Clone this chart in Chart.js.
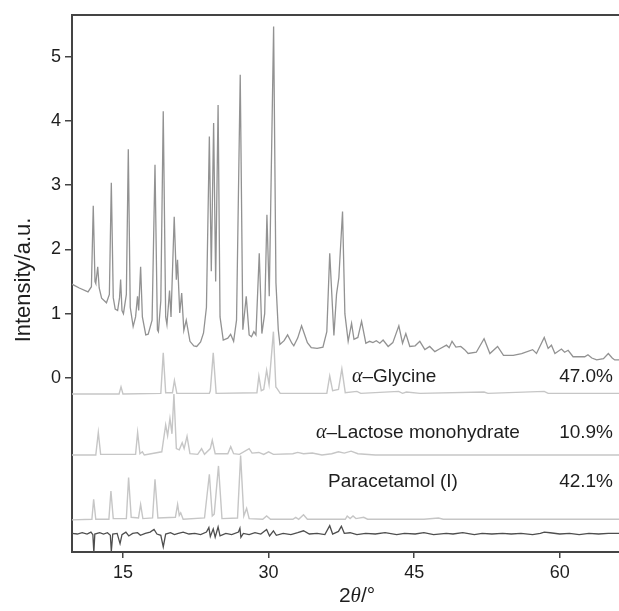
<!DOCTYPE html>
<html>
<head>
<meta charset="utf-8">
<script src="https://cdn.jsdelivr.net/npm/chart.js@4/dist/chart.umd.min.js"></script>
<style>
  html, body { margin: 0; padding: 0; background: #fff; overflow: hidden; }
  canvas { display: block; }
</style>
</head>
<body>
<canvas id="xrdChart" width="619" height="611"></canvas>
<script>
// tick labels
const xTicks = [15, 30, 45, 60];
const yTicks = [0, 1, 2, 3, 4, 5];

// observed pattern
const obsX = [9.75, 10.5, 11.4, 11.75, 11.94, 12.12, 12.2, 12.4, 12.55, 12.8, 13.3, 13.6, 13.8, 14.0, 14.2, 14.45, 14.65, 14.76, 14.9, 15.05,
  15.35, 15.55, 15.75, 16.05, 16.3, 16.5, 16.62, 16.82, 17.0, 17.35, 17.6, 18.0, 18.3, 18.55, 18.65, 18.9, 19.15, 19.4, 19.53, 19.8,
  19.95, 20.28, 20.5, 20.62, 20.85, 21.05, 21.27, 21.52, 21.9, 22.3, 22.6, 23.0, 23.3, 23.6, 23.9, 24.1, 24.34, 24.55, 24.8, 25.0,
  25.33, 25.8, 26.09, 26.4, 26.7, 27.08, 27.35, 27.7, 28.0, 28.24, 28.48, 28.7, 29.04, 29.31, 29.6, 29.83, 30.07, 30.52, 30.76, 31.0,
  31.17, 31.6, 31.96, 32.4, 32.6, 33.0, 33.4, 33.7, 34.0, 34.4, 35.0, 35.6, 36.0, 36.3, 36.73, 37.0, 37.24, 37.62, 37.86, 38.2,
  38.55, 38.8, 39.2, 39.58, 40.02, 40.4, 40.75, 41.1, 41.46, 41.8, 42.32, 42.8, 43.42, 43.8, 44.14, 44.55, 45.1, 45.58, 46.1, 46.6,
  47.13, 47.6, 48.33, 48.6, 48.9, 49.3, 49.8, 50.2, 50.56, 51.4, 52.2, 52.8, 53.59, 54.2, 55.2, 56.07, 57.2, 57.6, 58.4, 58.8,
  59.14, 59.5, 60.17, 60.5, 60.86, 61.37, 62.0, 62.57, 62.9, 63.3, 63.8, 64.5, 65.0, 65.4, 65.66, 66.1];
const obsY = [1.46, 1.40, 1.34, 1.42, 2.68, 1.50, 1.47, 1.73, 1.40, 1.24, 1.17, 1.30, 3.04, 1.25, 1.07, 1.05, 1.25, 1.53, 1.05, 1.00,
  1.30, 3.56, 1.10, 0.80, 0.95, 1.27, 1.05, 1.73, 0.95, 0.67, 0.68, 0.90, 3.32, 0.75, 0.72, 1.20, 4.15, 0.95, 0.83, 1.36,
  0.95, 2.51, 1.53, 1.84, 1.01, 1.32, 0.74, 0.90, 0.57, 0.50, 0.49, 0.56, 0.70, 1.10, 3.76, 1.66, 3.97, 1.50, 4.25, 0.95,
  0.59, 0.62, 0.68, 0.57, 0.90, 4.72, 0.75, 1.27, 0.67, 0.64, 0.72, 0.67, 1.94, 0.69, 1.00, 2.54, 1.27, 5.47, 1.48, 0.75,
  0.52, 0.58, 0.67, 0.54, 0.50, 0.62, 0.81, 0.68, 0.55, 0.47, 0.46, 0.48, 0.72, 1.94, 0.66, 1.30, 1.56, 2.59, 1.00, 0.57,
  0.85, 0.60, 0.63, 0.88, 0.54, 0.57, 0.55, 0.58, 0.54, 0.59, 0.49, 0.55, 0.81, 0.54, 0.69, 0.49, 0.50, 0.57, 0.44, 0.49,
  0.41, 0.45, 0.51, 0.47, 0.57, 0.48, 0.49, 0.44, 0.38, 0.40, 0.61, 0.38, 0.49, 0.35, 0.35, 0.38, 0.44, 0.38, 0.63, 0.46,
  0.51, 0.38, 0.45, 0.40, 0.43, 0.33, 0.33, 0.33, 0.36, 0.31, 0.28, 0.30, 0.38, 0.31, 0.28, 0.28];

// calculated alpha-glycine pattern
const glyX = [9.75, 14.6, 14.8, 15.0, 18.9, 19.15, 19.4, 20.1, 20.3, 20.55, 23.9, 24.0, 24.3, 24.6, 28.8, 29.0, 29.25, 29.5, 29.8, 30.05,
  30.5, 30.75, 30.9, 31.2, 36.0, 36.3, 36.6, 37.2, 37.55, 37.9, 39.1, 39.5, 43.4, 43.8, 44.2, 45.6, 52.2, 52.6, 58.4, 58.8, 66.1];
const glyY = [-0.25, -0.25, -0.14, -0.25, -0.24, 0.39, -0.23, -0.23, -0.04, -0.24, -0.24, -0.20, 0.39, -0.24, -0.23, 0.03, -0.20, -0.18, 0.12, -0.10,
  0.72, -0.14, -0.17, -0.24, -0.24, 0.03, -0.20, -0.18, 0.14, -0.23, -0.21, -0.24, -0.21, -0.24, -0.22, -0.24, -0.22, -0.24, -0.21, -0.24, -0.24];

// calculated alpha-lactose monohydrate pattern
const lacX = [9.75, 12.2, 12.46, 12.7, 16.3, 16.51, 16.75, 17.0, 17.2, 19.0, 19.4, 19.6, 19.84, 20.05, 20.25, 20.5, 20.8, 21.1, 21.3, 21.6,
  21.9, 22.7, 23.1, 23.4, 24.0, 24.2, 24.5, 25.8, 26.1, 26.4, 27.0, 28.0, 28.3, 29.0, 29.5, 30.0, 30.5, 32.5, 33.0, 33.6,
  34.5, 35.5, 36.5, 37.2, 37.8, 38.5, 39.2, 41.0, 66.1];
const lacY = [-1.20, -1.20, -0.85, -1.19, -1.19, -0.85, -1.18, -1.15, -1.20, -1.15, -0.73, -0.90, -0.63, -0.87, -0.25, -1.10, -1.12, -1.01, -1.10, -0.91,
  -1.18, -1.19, -1.10, -1.19, -1.10, -0.97, -1.18, -1.18, -1.07, -1.18, -1.19, -1.10, -1.17, -1.16, -1.19, -1.15, -1.19, -1.18, -1.16, -1.18,
  -1.17, -1.20, -1.18, -1.15, -1.17, -1.14, -1.18, -1.20, -1.20];

// calculated paracetamol (I) pattern
const parX = [9.75, 11.8, 11.98, 12.2, 13.55, 13.76, 14.0, 15.35, 15.58, 15.85, 16.6, 16.82, 17.05, 18.05, 18.3, 18.6, 20.4, 20.63, 20.8, 20.95,
  21.2, 23.4, 23.9, 24.2, 24.4, 24.84, 25.2, 26.8, 27.12, 27.45, 27.74, 28.0, 29.4, 29.8, 30.2, 32.5, 32.8, 33.1, 33.6, 34.0,
  37.9, 38.1, 38.4, 38.7, 39.0, 39.8, 40.2, 46.0, 47.5, 48.0, 66.1];
const parY = [-2.21, -2.20, -1.89, -2.20, -2.20, -1.76, -2.19, -2.19, -1.55, -2.17, -2.18, -1.97, -2.19, -2.18, -1.58, -2.18, -2.17, -1.97, -2.14, -2.10,
  -2.20, -2.18, -1.50, -2.15, -2.12, -1.37, -2.19, -2.18, -1.21, -2.15, -2.03, -2.19, -2.20, -2.15, -2.20, -2.20, -2.17, -2.20, -2.13, -2.20,
  -2.20, -2.15, -2.19, -2.15, -2.19, -2.17, -2.20, -2.20, -2.18, -2.20, -2.20];

// difference curve
const difX = [9.75, 10.3, 10.8, 11.3, 11.7, 11.9, 12.0, 12.1, 12.6, 13.0, 13.4, 13.7, 13.8, 13.95, 14.4, 14.7, 14.9, 15.3, 15.6, 16.0,
  16.5, 16.8, 17.3, 17.8, 18.2, 18.5, 18.9, 19.15, 19.4, 19.9, 20.3, 20.7, 21.2, 21.8, 22.4, 23.0, 23.6, 23.85, 24.0, 24.3,
  24.5, 24.8, 25.0, 25.6, 26.2, 26.9, 27.05, 27.15, 27.4, 28.0, 28.6, 29.2, 29.8, 30.1, 30.5, 30.8, 31.5, 32.3, 33.0, 33.6,
  34.2, 35.0, 35.8, 36.3, 36.6, 37.2, 37.5, 37.8, 38.4, 39.1, 40.0, 41.0, 42.0, 43.2, 44.0, 45.1, 46.0, 47.0, 48.3, 49.0,
  50.0, 51.2, 52.0, 53.0, 54.1, 55.0, 56.0, 57.2, 58.0, 58.4, 59.0, 60.0, 61.0, 62.0, 63.0, 64.0, 65.0, 66.1];
const difY = [-2.42, -2.43, -2.41, -2.43, -2.40, -2.44, -2.72, -2.43, -2.41, -2.43, -2.41, -2.45, -2.70, -2.43, -2.42, -2.58, -2.44, -2.40, -2.46, -2.42,
  -2.41, -2.45, -2.42, -2.40, -2.36, -2.43, -2.45, -2.63, -2.43, -2.41, -2.44, -2.42, -2.40, -2.43, -2.42, -2.44, -2.40, -2.33, -2.47, -2.35,
  -2.48, -2.32, -2.46, -2.42, -2.44, -2.40, -2.34, -2.48, -2.42, -2.44, -2.41, -2.43, -2.36, -2.46, -2.38, -2.45, -2.42, -2.44, -2.41, -2.38,
  -2.43, -2.42, -2.44, -2.30, -2.43, -2.39, -2.31, -2.42, -2.41, -2.44, -2.42, -2.43, -2.41, -2.44, -2.42, -2.43, -2.41, -2.44, -2.42, -2.43,
  -2.41, -2.44, -2.42, -2.43, -2.42, -2.43, -2.42, -2.44, -2.42, -2.40, -2.41, -2.43, -2.42, -2.44, -2.42, -2.43, -2.42, -2.42];

// phase labels and weight fractions
const phaseNames = ['Glycine', 'Lactose monohydrate', 'Paracetamol (I)'];
const phaseGreek = [true, true, false];
const phaseShares = ['47.0%', '10.9%', '42.1%'];

const sansFont = '"Liberation Sans", Arial, sans-serif';
const serifItalic = '"Liberation Serif", "DejaVu Serif", serif';
const axisColor = '#444';
const textColor = '#1e1e1e';

// zip two value lists into chart points
const toPoints = (xs, ys) => xs.map((x, i) => ({ x: x, y: ys[i] }));

const trace = (label, xs, ys, color, width) => ({
  label: label,
  data: toPoints(xs, ys),
  borderColor: color,
  borderWidth: width,
  pointRadius: 0,
  showLine: true,
  tension: 0,
  fill: false
});

// draws the top frame line, the phase labels and both axis titles
const annotations = {
  id: 'annotations',
  afterDraw(chart) {
    const { ctx, chartArea } = chart;
    ctx.save();

    ctx.strokeStyle = axisColor;
    ctx.lineWidth = 2;
    ctx.beginPath();
    ctx.moveTo(chartArea.left - 1, chartArea.top);
    ctx.lineTo(chartArea.right, chartArea.top);
    ctx.stroke();

    ctx.fillStyle = textColor;
    ctx.textBaseline = 'middle';

    const nameLeft = [352, 316, 328];
    const rowY = [377, 433, 482];
    for (let i = 0; i < phaseNames.length; i++) {
      let x = nameLeft[i];
      ctx.textAlign = 'left';
      if (phaseGreek[i]) {
        ctx.font = 'italic 20px ' + serifItalic;
        ctx.fillText('\u03b1', x, rowY[i]);
        x += ctx.measureText('\u03b1').width;
        ctx.font = '19px ' + sansFont;
        ctx.fillText('\u2013' + phaseNames[i], x, rowY[i]);
      } else {
        ctx.font = '19px ' + sansFont;
        ctx.fillText(phaseNames[i], x, rowY[i]);
      }
      ctx.textAlign = 'right';
      ctx.fillText(phaseShares[i], 613, rowY[i]);
    }

    // x title: 2θ/°
    const parts = [['2', '21px ' + sansFont], ['\u03b8', 'italic 21px ' + serifItalic], ['/\u00b0', '21px ' + sansFont]];
    let total = 0;
    parts.forEach(p => { ctx.font = p[1]; total += ctx.measureText(p[0]).width; });
    let tx = 357 - total / 2;
    ctx.textAlign = 'left';
    parts.forEach(p => {
      ctx.font = p[1];
      ctx.fillText(p[0], tx, 596);
      tx += ctx.measureText(p[0]).width;
    });

    // y title
    ctx.translate(24, 280);
    ctx.rotate(-Math.PI / 2);
    ctx.textAlign = 'center';
    ctx.font = '22px ' + sansFont;
    ctx.fillText('Intensity/a.u.', 0, 0);

    ctx.restore();
  }
};

new Chart(document.getElementById('xrdChart'), {
  type: 'scatter',
  data: {
    datasets: [
      trace('Difference', difX, difY, '#4e4e4e', 1.3),
      trace('Paracetamol (I)', parX, parY, '#c6c6c6', 1.4),
      trace('Lactose monohydrate', lacX, lacY, '#c6c6c6', 1.4),
      trace('Glycine', glyX, glyY, '#c6c6c6', 1.4),
      trace('Observed', obsX, obsY, '#929292', 1.3)
    ]
  },
  options: {
    responsive: false,
    animation: false,
    devicePixelRatio: 1,
    layout: { padding: { top: 15, left: 0, right: 0, bottom: 0 } },
    plugins: {
      legend: { display: false },
      tooltip: { enabled: false }
    },
    scales: {
      x: {
        type: 'linear',
        min: 9.75,
        max: 66.1,
        afterBuildTicks: axis => { axis.ticks = xTicks.map(v => ({ value: v })); },
        afterFit: axis => { axis.height = 59; },
        border: { display: true, color: axisColor, width: 2 },
        grid: { drawOnChartArea: false, drawTicks: true, tickLength: 6, color: axisColor, lineWidth: 1.5 },
        ticks: { color: textColor, font: { family: sansFont, size: 18 }, padding: 4, maxRotation: 0 }
      },
      y: {
        type: 'linear',
        min: -2.71,
        max: 5.65,
        afterBuildTicks: axis => { axis.ticks = yTicks.map(v => ({ value: v })); },
        afterFit: axis => { axis.width = 72; },
        border: { display: true, color: axisColor, width: 2 },
        grid: { drawOnChartArea: false, drawTicks: true, tickLength: 7, color: axisColor, lineWidth: 1.5 },
        ticks: { color: textColor, font: { family: sansFont, size: 18 }, padding: 4 }
      }
    }
  },
  plugins: [annotations]
});
</script>
</body>
</html>
